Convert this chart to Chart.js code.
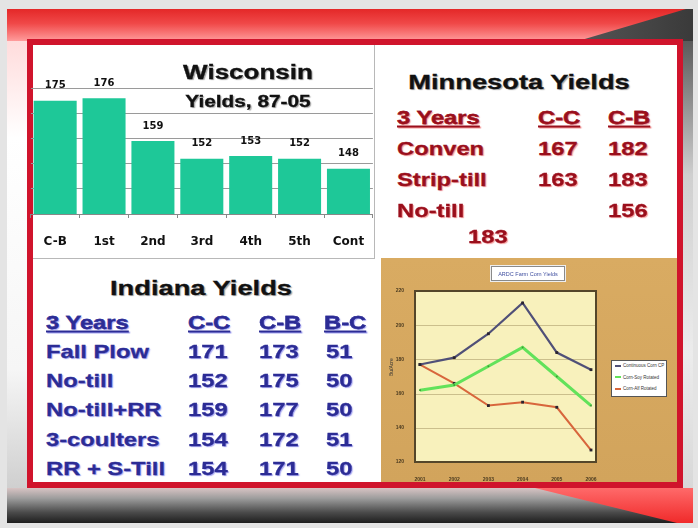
<!DOCTYPE html>
<html>
<head>
<meta charset="utf-8">
<script src="https://cdn.jsdelivr.net/npm/chart.js@4.4.1/dist/chart.umd.min.js"></script>
<style>
body{margin:0;width:698px;height:528px;background:#e4e4e4;position:relative;overflow:hidden;font-family:"Liberation Sans",Arial,sans-serif;}
.abs{position:absolute;}
#slide{left:7px;top:9px;width:686px;height:514px;background:linear-gradient(to bottom,#ffd0d0 0%,#ffffff 25%,#f6f6f6 70%,#c4c4c4 100%);}
#topband{left:7px;top:9px;width:686px;height:32px;background:linear-gradient(to bottom,#e42828,#f04848 45%,#ff9c9c);}
#topgray{left:7px;top:9px;width:686px;height:32px;background:linear-gradient(to right,#e0e0e0,#9a9a9a 40%,#3a3a3a);clip-path:polygon(571px 32px,686px 32px,686px 0,679px 0);}
#rightstrip{left:683px;top:41px;width:10px;height:447px;background:linear-gradient(to bottom,#5a5a5a,#cfcfcf 30%,#ececec 70%,#d8d8d8);}
#botband{left:7px;top:488px;width:686px;height:35px;background:linear-gradient(to bottom,#d8c4c4,#9c9c9c 30%,#4a4a4a 70%,#1e1e1e);}
#botred{left:7px;top:488px;width:686px;height:35px;background:linear-gradient(to bottom,#ff6a6a,#f02a2a);clip-path:polygon(528px 0,686px 0,686px 35px,670px 35px);}
#box{left:27px;top:39px;width:656px;height:449px;border:6px solid #d0142c;box-sizing:border-box;background:#fff;}
#wisc{left:27px;top:45px;width:354px;height:214px;}
#vline{left:374px;top:45px;width:1px;height:213px;background:#b8b8b8;}
#hline{left:33px;top:258px;width:342px;height:1px;background:#b8b8b8;}
#tan{left:381px;top:258px;width:296px;height:224px;background:linear-gradient(to bottom,#d9ab62,#d2a45c);}
#line{left:381px;top:258px;width:296px;height:224px;}
.t{position:absolute;white-space:nowrap;line-height:1;font-weight:bold;transform-origin:left center;transform:translateY(-50%) scaleX(1.25);-webkit-text-stroke:0.3px;}
.c{transform-origin:center center;transform:translate(-50%,-50%) scaleX(1.3);}
.title{font-size:21px;color:#111;text-shadow:1px 1px 1px rgba(0,0,0,0.35);}
.mn{font-size:19px;color:#9a0f1c;text-shadow:1px 1px 1px rgba(235,70,70,0.55);}
.in{font-size:19px;color:#2c2c95;text-shadow:1px 1px 1px rgba(90,90,230,0.55);}
.u{text-decoration:underline;text-decoration-thickness:2px;text-underline-offset:2px;}
#ctitle{left:491px;top:266px;width:74px;height:15px;background:#fff;border:1px solid #8a8a8a;box-shadow:0 0 0 1px #eee;font-size:5.5px;color:#4050a0;text-align:center;line-height:15px;box-sizing:border-box;}
#legend{left:611px;top:360px;width:56px;height:37px;background:#fff;border:1px solid #555;box-sizing:border-box;font-size:4.5px;color:#333;}
#legend div{position:absolute;left:3px;height:8px;line-height:8px;white-space:nowrap;}
#legend i{display:inline-block;width:6px;height:2px;vertical-align:middle;margin-right:2px;}
#ytitle{left:388px;top:376px;font-size:5px;color:#333;transform:rotate(-90deg);transform-origin:left top;}
</style>
</head>
<body>
<div id="slide" class="abs"></div>
<div id="topband" class="abs"></div>
<div id="topgray" class="abs"></div>
<div id="rightstrip" class="abs"></div>
<div id="botband" class="abs"></div>
<div id="botred" class="abs"></div>
<div id="box" class="abs"></div>
<div id="vline" class="abs"></div>
<div id="hline" class="abs"></div>
<div id="wisc" class="abs"><canvas id="barChart" width="354" height="214"></canvas></div>
<div id="tan" class="abs"></div>
<div id="line" class="abs"><canvas id="lineChart" width="296" height="224"></canvas></div>
<div id="ctitle" class="abs">ARDC Farm Corn Yields</div>
<div id="legend" class="abs"></div>
<div id="ytitle" class="abs">Bu/Acre</div>
<div id="texts"></div>
<script>
// Wisconsin bar chart data
const wiscLabels = ['C-B', '1st', '2nd', '3rd', '4th', '5th', 'Cont'];
const wiscYields = [175, 176, 159, 152, 153, 152, 148];

// Minnesota table
const mnHeader = ['3 Years', 'C-C', 'C-B'];
const mnRows = ['Conven', 'Strip-till', 'No-till'];
const mnCC = [167, 163, 183];
const mnCB = [182, 183, 156];

// Indiana table
const inHeader = ['3 Years', 'C-C', 'C-B', 'B-C'];
const inRows = ['Fall Plow', 'No-till', 'No-till+RR', '3-coulters', 'RR + S-Till'];
const inCC = [171, 152, 159, 154, 154];
const inCB = [173, 175, 177, 172, 171];
const inBC = [51, 50, 50, 51, 50];

// small line chart
const farmYears = ['2001', '2002', '2003', '2004', '2005', '2006'];
const farmSeriesNames = ['Continuous Corn CP', 'Corn-Soy Rotated', 'Corn-Alf Rotated'];
const farmSeriesA = [177, 181, 195, 213, 184, 174];
const farmSeriesB = [162, 165, 176, 187, 170, 153];
const farmSeriesC = [177, 166, 153, 155, 152, 127];
const farmTicks = [120, 140, 160, 180, 200, 220];

// text helper
const texts = document.getElementById('texts');
function put(str, x, y, cls) {
    const s = document.createElement('span');
    s.className = 't ' + cls;
    s.textContent = str;
    s.style.left = x + 'px';
    s.style.top = y + 'px';
    texts.appendChild(s);
    return s;
}

put('Wisconsin', 248, 72, 'c title').style.fontSize = '20px';
put('Yields, 87-05', 248, 102, 'c title').style.fontSize = '16px';

// Minnesota
put('Minnesota Yields', 519, 81, 'c title');
const mnX = [397, 538, 608];
mnHeader.forEach((h, i) => put(h, mnX[i], 117, 'mn u'));
mnRows.forEach((r, i) => {
    const y = 148 + i * 31;
    put(r, mnX[0], y, 'mn');
    if (i < 2) put(String(mnCC[i]), mnX[1], y, 'mn');
    else put(String(mnCC[i]), 468, y + 26, 'mn'); // wrapped onto next line
    put(String(mnCB[i]), mnX[2], y, 'mn');
});

// Indiana
put('Indiana Yields', 201, 287, 'c title');
const inX = [46, 188, 259, 324];
inHeader.forEach((h, i) => put(h, inX[i], 322, 'in u'));
inRows.forEach((r, i) => {
    const y = 351 + i * 29.2;
    put(r, inX[0], y, 'in');
    put(String(inCC[i]), inX[1], y, 'in');
    put(String(inCB[i]), inX[2], y, 'in');
    put(String(inBC[i]), inX[3] + 2, y, 'in');
});

// value labels above bars
const barValues = {
    id: 'barValues',
    afterDatasetsDraw(chart) {
        const ctx = chart.ctx;
        const meta = chart.getDatasetMeta(0);
        ctx.save();
        ctx.fillStyle = '#111';
        ctx.font = 'bold 10px "DejaVu Sans"';
        ctx.textAlign = 'center';
        ctx.textBaseline = 'middle';
        meta.data.forEach((bar, i) => {
            ctx.fillText(wiscYields[i], bar.x, bar.y - 15);
        });
        ctx.restore();
    }
};

const barCtx = document.getElementById('barChart').getContext('2d');
new Chart(barCtx, {
    type: 'bar',
    data: {
        labels: wiscLabels,
        datasets: [{
            data: wiscYields,
            backgroundColor: '#1ec898',
            barPercentage: 0.88,
            categoryPercentage: 1
        }]
    },
    plugins: [barValues],
    options: {
        responsive: false,
        animation: false,
        layout: { padding: { top: 18, right: 2, left: 0, bottom: 0 } },
        plugins: { legend: { display: false }, tooltip: { enabled: false } },
        scales: {
            x: {
                afterFit: s => { s.height = 45; },
                grid: { drawOnChartArea: false, drawTicks: true, tickLength: 4, color: '#888' },
                border: { color: '#888' },
                ticks: { color: '#111', padding: 17, font: { family: 'DejaVu Sans', size: 12, weight: 'bold' } }
            },
            y: {
                min: 130,
                max: 190,
                afterFit: s => { s.width = 0; },
                ticks: { display: false, stepSize: 10 },
                border: { display: false },
                grid: {
                    drawTicks: false,
                    color: c => (c.tick.value > 130 && c.tick.value < 190) ? '#9a9a9a' : 'rgba(0,0,0,0)'
                }
            }
        }
    }
});

// plot box for the small line chart
const plotBox = {
    id: 'plotBox',
    beforeDatasetsDraw(chart) {
        const { ctx, chartArea: a } = chart;
        const ys = chart.scales.y;
        ctx.save();
        ctx.fillStyle = '#f8f1bc';
        ctx.fillRect(a.left - 5, a.top, a.right - a.left + 10, a.bottom - a.top);
        ctx.strokeStyle = '#cbbf8c';
        ctx.lineWidth = 1;
        ys.ticks.forEach(t => {
            const y = Math.round(ys.getPixelForValue(t.value)) + 0.5;
            ctx.beginPath();
            ctx.moveTo(a.left - 5, y);
            ctx.lineTo(a.right + 5, y);
            ctx.stroke();
        });
        ctx.strokeStyle = '#54462a';
        ctx.lineWidth = 2;
        ctx.strokeRect(a.left - 5, a.top, a.right - a.left + 10, a.bottom - a.top);
        ctx.restore();
    }
};

const lineColors = ['#505078', '#62e25a', '#d8663c'];
const lineWidths = [2.2, 3, 2];
const lineCtx = document.getElementById('lineChart').getContext('2d');
new Chart(lineCtx, {
    type: 'line',
    data: {
        labels: farmYears,
        datasets: [farmSeriesA, farmSeriesB, farmSeriesC].map((d, i) => ({
            label: farmSeriesNames[i],
            data: d,
            borderColor: lineColors[i],
            borderWidth: lineWidths[i],
            pointStyle: 'rect',
            pointRadius: i === 1 ? 1.2 : 2,
            pointBackgroundColor: i === 1 ? '#3c9a34' : '#2a2430',
            pointBorderWidth: 0,
            tension: 0
        }))
    },
    plugins: [plotBox],
    options: {
        responsive: false,
        animation: false,
        layout: { padding: { top: 33, right: 86, left: 0, bottom: 0 } },
        plugins: { legend: { display: false }, tooltip: { enabled: false } },
        scales: {
            x: {
                offset: false,
                afterFit: s => { s.height = 20; },
                grid: { display: false },
                border: { display: false },
                ticks: { color: '#4a3a20', padding: 7, font: { size: 5, weight: 'bold' } }
            },
            y: {
                min: farmTicks[0],
                max: farmTicks[farmTicks.length - 1],
                afterFit: s => { s.width = 39; },
                afterBuildTicks: s => { s.ticks = farmTicks.map(v => ({ value: v })); },
                grid: { display: false },
                border: { display: false },
                ticks: { color: '#4a3a20', padding: 8, font: { size: 5, weight: 'bold' } }
            }
        }
    }
});

// legend box
const legend = document.getElementById('legend');
farmSeriesNames.forEach((n, i) => {
    const d = document.createElement('div');
    d.style.top = (1 + i * 11.5) + 'px';
    d.innerHTML = '<i style="background:' + lineColors[i] + '"></i>';
    d.appendChild(document.createTextNode(n));
    legend.appendChild(d);
});
</script>
</body>
</html>
